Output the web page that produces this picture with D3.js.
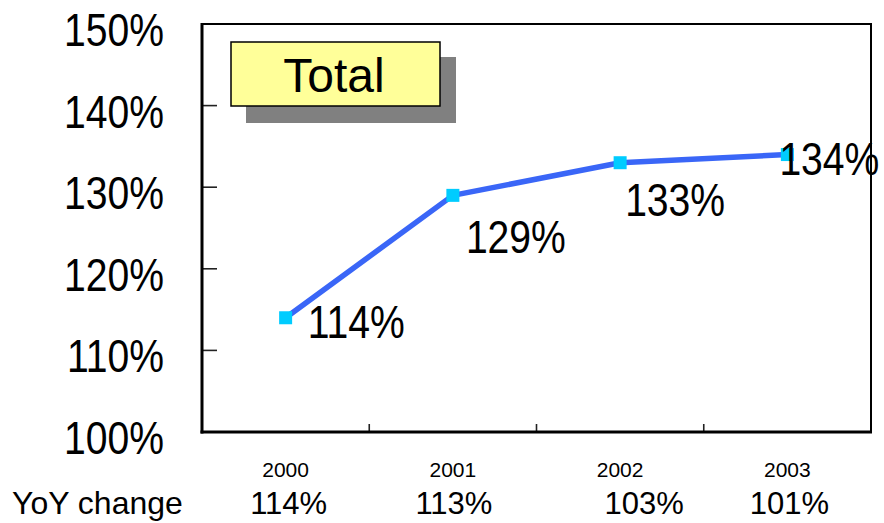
<!DOCTYPE html>
<html>
<head>
<meta charset="utf-8">
<script src="https://cdn.jsdelivr.net/npm/d3@7"></script>
<style>
  html, body { margin: 0; padding: 0; background: #fff; }
  svg { display: block; font-family: "Liberation Sans", Arial, sans-serif; }
</style>
</head>
<body>
<svg id="chart" width="884" height="523"></svg>
<script>
// ---- data ----
const years = ["2000", "2001", "2002", "2003"];
const totals = [114, 129, 133, 134];
const yoyChange = ["114%", "113%", "103%", "101%"];
const yTicks = [100, 110, 120, 130, 140, 150];
const title = "Total";
const rowLabel = "YoY change";

// label placement (manual, like the source chart)
const labelDx = [22, 13, 5, -8];
const labelDy = [20, 58, 53, 20];
const yoyDx = [3, 1, 24, 2];

// ---- layout ----
const svg = d3.select("#chart");
const L = 202, R = 871, T = 24, B = 432;

const x = d3.scaleBand().domain(years).range([L, R]).padding(0);
const y = d3.scaleLinear().domain([100, 150]).range([B, T]);
const cx = d => x(d) + x.bandwidth() / 2;

// y tick labels
svg.append("g").selectAll("text").data(yTicks).join("text")
  .attr("transform", d => `translate(164,${y(d) + 22}) scale(0.85,1)`)
  .attr("text-anchor", "end")
  .attr("font-size", 46)
  .attr("fill", "#000")
  .text(d => d + "%");

// y ticks (inward)
svg.append("g").selectAll("line").data(yTicks.slice(1, -1)).join("line")
  .attr("x1", L).attr("x2", L + 15)
  .attr("y1", d => y(d)).attr("y2", d => y(d))
  .attr("stroke", "#222").attr("stroke-width", 1.6);

// x ticks at category boundaries (inward)
svg.append("g").selectAll("line").data(years.slice(1)).join("line")
  .attr("x1", d => x(d)).attr("x2", d => x(d))
  .attr("y1", B).attr("y2", B - 8)
  .attr("stroke", "#222").attr("stroke-width", 1.6);

// title box with shadow
svg.append("rect").attr("x", 246).attr("y", 57).attr("width", 210).attr("height", 66)
  .attr("fill", "#808080");
svg.append("rect").attr("x", 231).attr("y", 42).attr("width", 209).attr("height", 64)
  .attr("fill", "#ffff99").attr("stroke", "#000").attr("stroke-width", 1.5);
svg.append("text").attr("x", 334).attr("y", 92).attr("text-anchor", "middle")
  .attr("font-size", 48).attr("fill", "#000").text(title);

// line
const line = d3.line().x((d, i) => cx(years[i])).y(d => y(d));
svg.append("path").datum(totals)
  .attr("d", line).attr("fill", "none")
  .attr("stroke", "#3a66f7").attr("stroke-width", 5.5).attr("stroke-linejoin", "round");

// markers
svg.append("g").selectAll("rect").data(totals).join("rect")
  .attr("x", (d, i) => cx(years[i]) - 6.5).attr("y", d => y(d) - 6.5)
  .attr("width", 13).attr("height", 13).attr("fill", "#00ccff");

// data labels
svg.append("g").selectAll("text").data(totals).join("text")
  .attr("transform", (d, i) => `translate(${cx(years[i]) + labelDx[i]},${y(d) + labelDy[i]}) scale(0.85,1)`)
  .attr("font-size", 46).attr("fill", "#000")
  .text(d => d + "%");

// frame
svg.append("rect").attr("x", L).attr("y", T).attr("width", R - L).attr("height", B - T)
  .attr("fill", "none").attr("stroke", "#000").attr("stroke-width", 2);
svg.append("line").attr("x1", L).attr("x2", L).attr("y1", T - 1).attr("y2", B + 1.5)
  .attr("stroke", "#000").attr("stroke-width", 3);
svg.append("line").attr("x1", L - 1.5).attr("x2", R + 1).attr("y1", B).attr("y2", B)
  .attr("stroke", "#000").attr("stroke-width", 3);

// year labels
svg.append("g").selectAll("text").data(years).join("text")
  .attr("x", d => cx(d)).attr("y", 477).attr("text-anchor", "middle")
  .attr("font-size", 21).attr("fill", "#000").text(d => d);

// YoY row
svg.append("text").attr("x", 12).attr("y", 514).attr("font-size", 32).attr("fill", "#000").text(rowLabel);
svg.append("g").selectAll("text").data(yoyChange).join("text")
  .attr("x", (d, i) => cx(years[i]) + yoyDx[i]).attr("y", 514).attr("text-anchor", "middle")
  .attr("font-size", 31).attr("fill", "#000").text(d => d);
</script>
</body>
</html>
